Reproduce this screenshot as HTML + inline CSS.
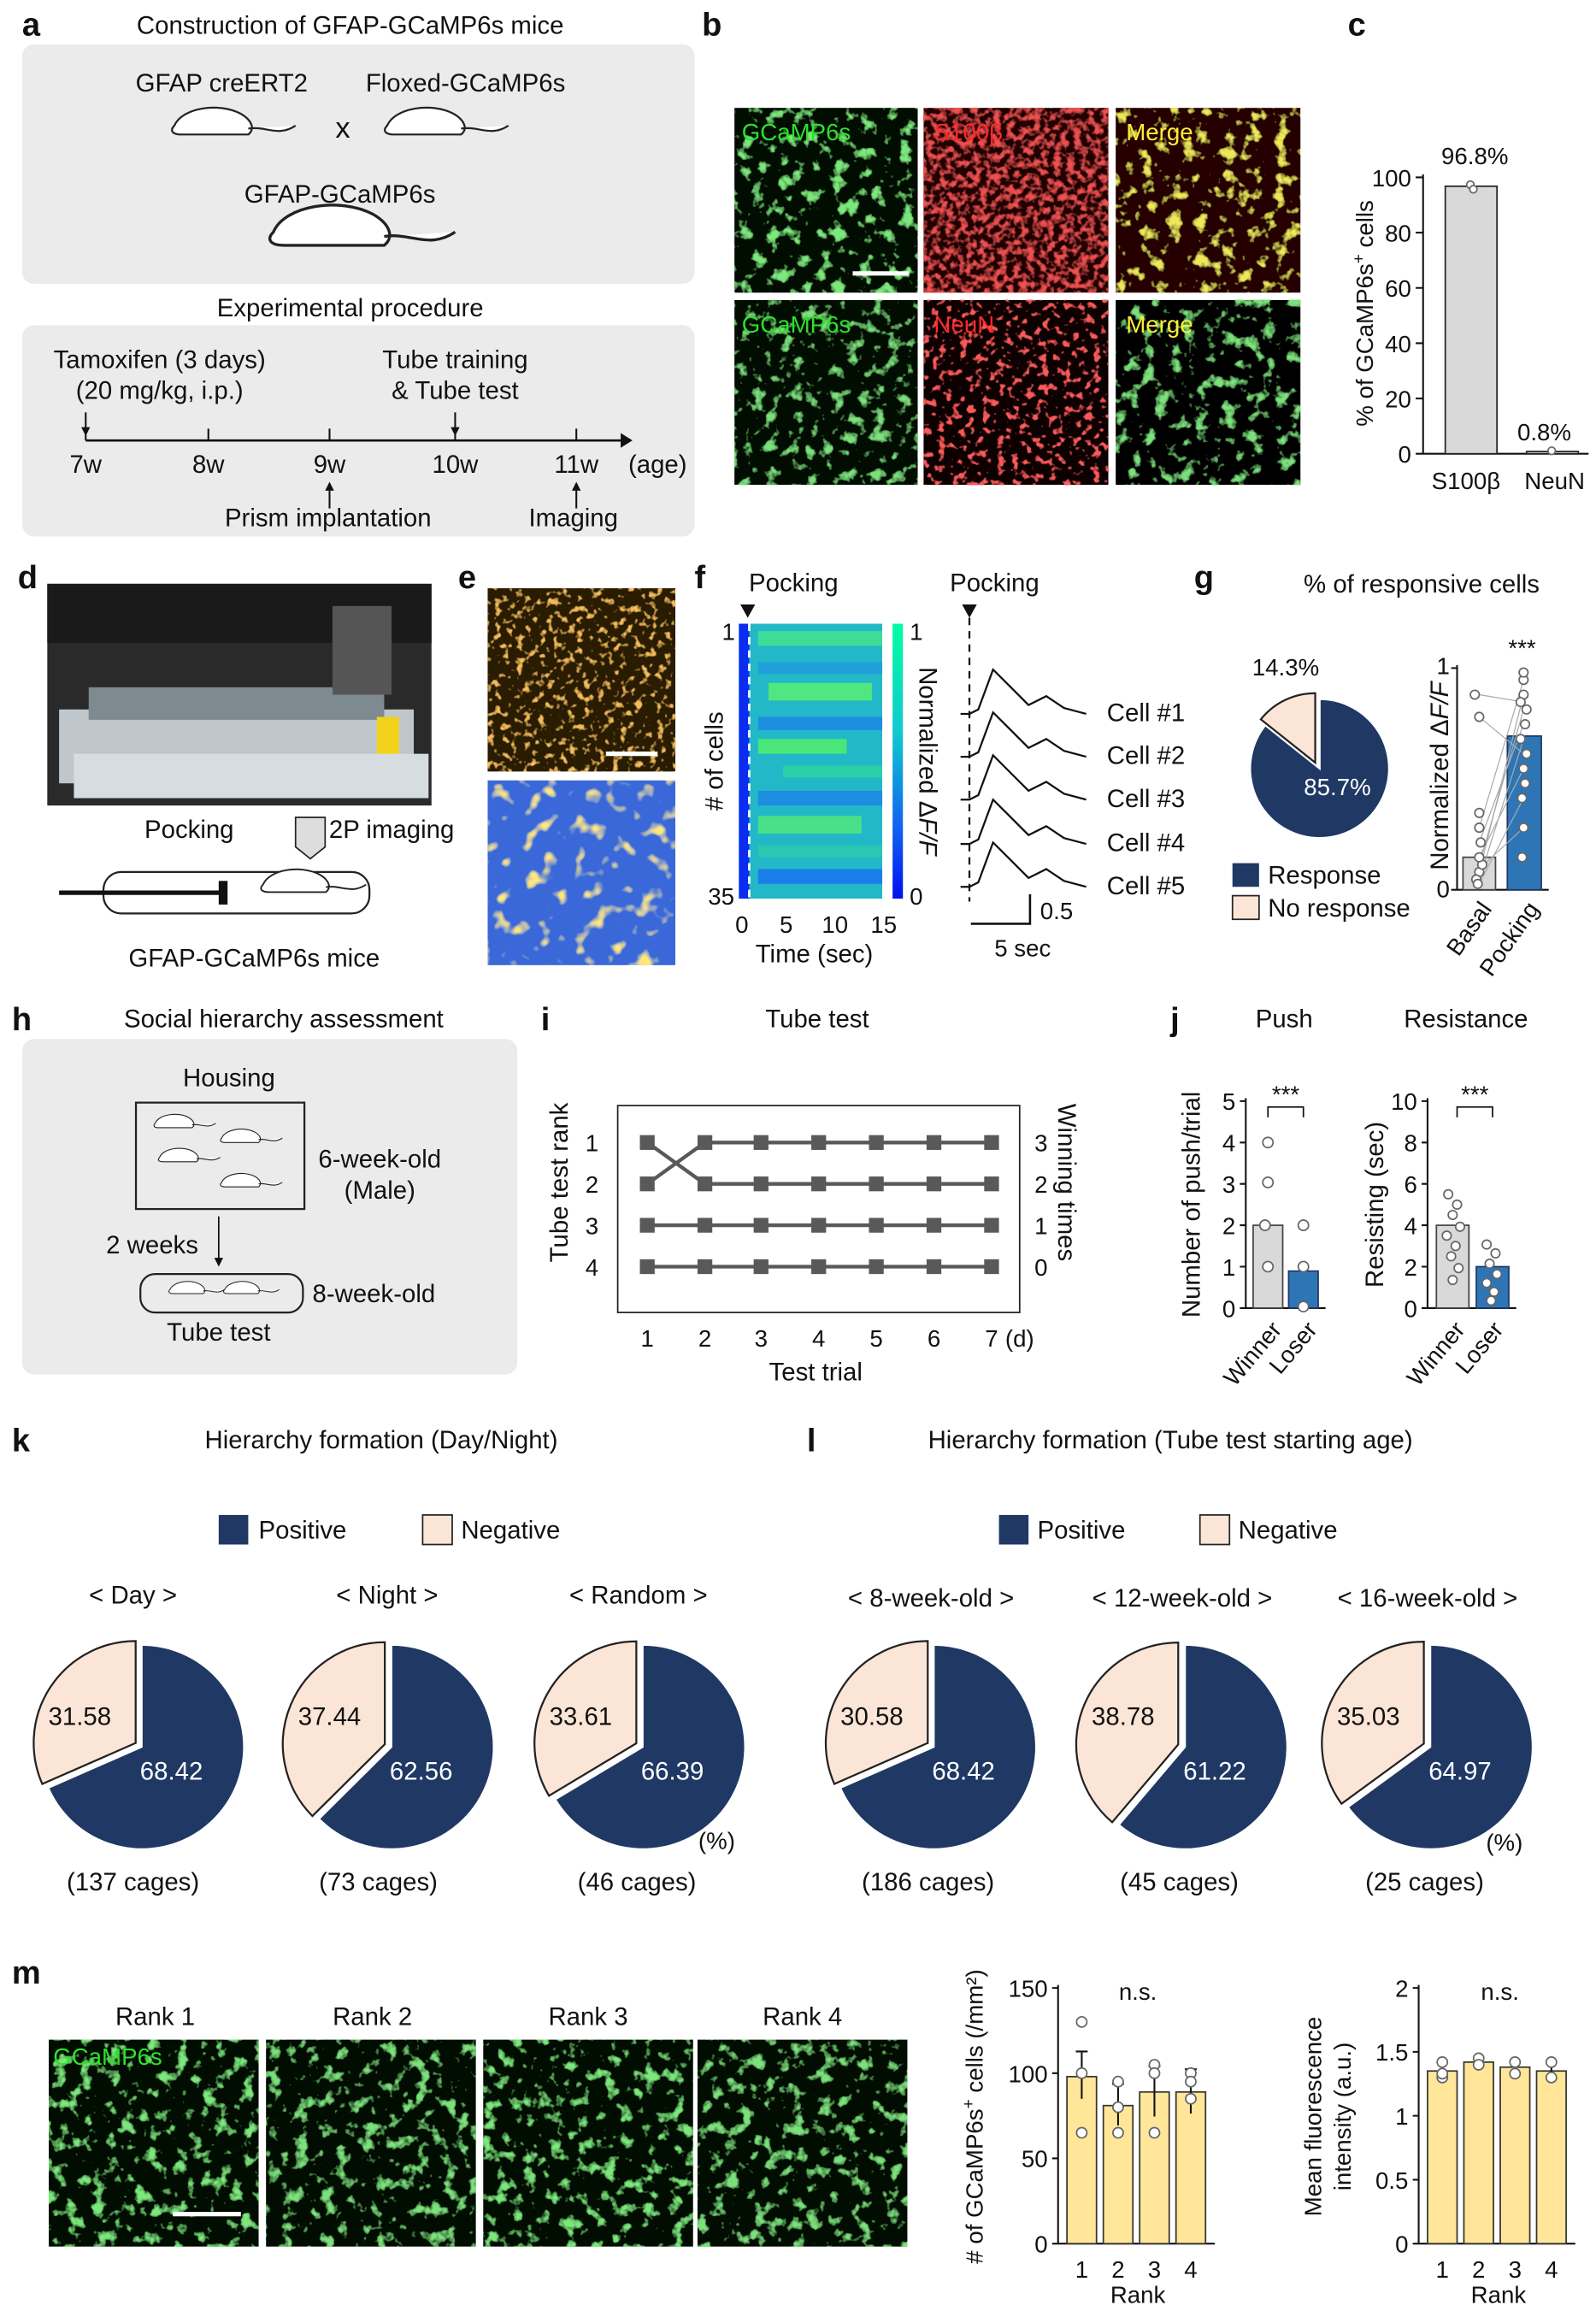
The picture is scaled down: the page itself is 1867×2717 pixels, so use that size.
<!DOCTYPE html>
<html><head><meta charset="utf-8"><style>
html,body{margin:0;padding:0;background:#fff}
svg{display:block}
text{font-family:"Liberation Sans",Arial,sans-serif;fill:#111;font-size:17px;text-anchor:middle}
.s{text-anchor:start}.e{text-anchor:end}.t{font-size:16px}.b{font-size:22px;font-weight:bold;text-anchor:start}
.w{fill:#fff}
.k{stroke:#111;stroke-width:1.2;fill:none}
.dot{fill:#fff;stroke:#666;stroke-width:1}
</style></head><body>
<svg xmlns="http://www.w3.org/2000/svg" width="1867" height="2717" viewBox="0 0 1080 1571.7">
<defs>
<filter id="fg" x="0" y="0" width="100%" height="100%"><feTurbulence type="fractalNoise" baseFrequency="0.11" numOctaves="3" seed="3" result="n"/><feColorMatrix in="n" type="matrix" values="0 0 0 0 0.2  0 0 0 0 0.8  0 0 0 0 0.2  6 0 0 0 -3.4" result="c"/><feComposite in="c" in2="SourceGraphic" operator="over"/></filter>
<filter id="fr" x="0" y="0" width="100%" height="100%"><feTurbulence type="fractalNoise" baseFrequency="0.22" numOctaves="2" seed="5" result="n"/><feColorMatrix in="n" type="matrix" values="0 0 0 0 0.85  0 0 0 0 0.08  0 0 0 0 0.08  4 0 0 0 -1.8" result="c"/><feComposite in="c" in2="SourceGraphic" operator="over"/></filter>
<filter id="fn" x="0" y="0" width="100%" height="100%"><feTurbulence type="fractalNoise" baseFrequency="0.2" numOctaves="2" seed="11" result="n"/><feColorMatrix in="n" type="matrix" values="0 0 0 0 0.95  0 0 0 0 0.1  0 0 0 0 0.1  7 0 0 0 -4" result="c"/><feComposite in="c" in2="SourceGraphic" operator="over"/></filter>
<filter id="fy" x="0" y="0" width="100%" height="100%"><feTurbulence type="fractalNoise" baseFrequency="0.11" numOctaves="3" seed="3" result="n"/><feColorMatrix in="n" type="matrix" values="0 0 0 0 0.85  0 0 0 0 0.8  0 0 0 0 0.1  6 0 0 0 -3.4" result="c"/><feComposite in="c" in2="SourceGraphic" operator="over"/></filter>
<filter id="fm" x="0" y="0" width="100%" height="100%"><feTurbulence type="fractalNoise" baseFrequency="0.11" numOctaves="3" seed="4" result="n"/><feColorMatrix in="n" type="matrix" values="0 0 0 0 0.2  0 0 0 0 0.75  0 0 0 0 0.2  6 0 0 0 -3.4" result="c"/><feComposite in="c" in2="SourceGraphic" operator="over"/></filter>
<filter id="fo" x="0" y="0" width="100%" height="100%"><feTurbulence type="fractalNoise" baseFrequency="0.2" numOctaves="2" seed="9" result="n"/><feColorMatrix in="n" type="matrix" values="0 0 0 0 0.9  0 0 0 0 0.5  0 0 0 0 0.1  6 0 0 0 -3.4" result="c"/><feComposite in="c" in2="SourceGraphic" operator="over"/></filter>
<filter id="fj" x="0" y="0" width="100%" height="100%"><feTurbulence type="fractalNoise" baseFrequency="0.09" numOctaves="2" seed="2" result="n"/><feColorMatrix in="n" type="matrix" values="3 0 0 0 -1.2  0 0 0 0 0.8  0 0 0 0 0.2  5 0 0 0 -2.9" result="c"/><feComposite in="c" in2="SourceGraphic" operator="over"/></filter>
<linearGradient id="cb" x1="0" y1="0" x2="0" y2="1"><stop offset="0" stop-color="#00ffa0"/><stop offset="0.4" stop-color="#10c8d0"/><stop offset="0.75" stop-color="#1060f0"/><stop offset="1" stop-color="#0010f0"/></linearGradient>
<path id="ms" d="M0,10 C5,-2 30,-6 45,2 C52,6 55,12 50,16 L5,16 C-2,16 -3,13 0,10 Z M50,12 C62,10 70,18 82,10" fill="#fff" stroke="#222" stroke-width="1.3"/>
<path id="tr" d="M650,0 L656,0 L662,-3 L672,-30 L684,-18 L696,-6 L708,-12 L720,-4 L735,0" fill="none" stroke="#111" stroke-width="1.3"/>
</defs>
<rect width="1080" height="1572" fill="#fff"/>

<!-- a -->
<text class="b" x="15" y="24">a</text><text x="237" y="23">Construction of GFAP-GCaMP6s mice</text>
<rect x="15" y="30" width="455" height="162" rx="8" fill="#ebebeb"/>
<text x="150" y="62">GFAP creERT2</text><text x="315" y="62">Floxed-GCaMP6s</text><text x="232" y="93" style="font-size:20px">x</text>
<use href="#ms" transform="translate(118,75)"/><use href="#ms" transform="translate(262,75)"/><use href="#ms" transform="translate(185,142) scale(1.5)"/>
<text x="230" y="137">GFAP-GCaMP6s</text>
<text x="237" y="214">Experimental procedure</text>
<rect x="15" y="220" width="455" height="143" rx="8" fill="#ebebeb"/>
<text x="108" y="249">Tamoxifen (3 days)</text><text x="108" y="270">(20 mg/kg, i.p.)</text>
<text x="308" y="249">Tube training</text><text x="308" y="270">&amp; Tube test</text>
<line x1="58" y1="298" x2="422" y2="298" stroke="#111" stroke-width="1.5"/><path d="M420,293 L428,298 L420,303Z" fill="#111"/>
<g stroke="#111" stroke-width="1.2"><line x1="58" y1="298" x2="58" y2="290"/><line x1="141" y1="298" x2="141" y2="290"/><line x1="223" y1="298" x2="223" y2="290"/><line x1="308" y1="298" x2="308" y2="290"/><line x1="390" y1="298" x2="390" y2="290"/>
<line x1="58" y1="279" x2="58" y2="290"/><line x1="308" y1="279" x2="308" y2="290"/><line x1="223" y1="344" x2="223" y2="332"/><line x1="390" y1="344" x2="390" y2="332"/></g>
<path d="M55,289 h6 l-3,6Z M305,289 h6 l-3,6Z M220,332 h6 l-3,-6Z M387,332 h6 l-3,-6Z" fill="#111"/>
<text x="58" y="320">7w</text><text x="141" y="320">8w</text><text x="223" y="320">9w</text><text x="308" y="320">10w</text><text x="390" y="320">11w</text><text x="445" y="320">(age)</text>
<text x="222" y="356">Prism implantation</text><text x="388" y="356">Imaging</text>

<!-- b -->
<text class="b" x="475" y="24">b</text>
<rect x="497" y="73" width="124" height="125" fill="#030803" filter="url(#fg)"/>
<rect x="625" y="73" width="125" height="125" fill="#200303" filter="url(#fr)"/>
<rect x="755" y="73" width="125" height="125" fill="#250604" filter="url(#fy)"/>
<rect x="497" y="203" width="124" height="125" fill="#030803" filter="url(#fm)"/>
<rect x="625" y="203" width="125" height="125" fill="#0c0202" filter="url(#fn)"/>
<rect x="755" y="203" width="125" height="125" fill="#060302" filter="url(#fm)"/>
<rect x="755" y="203" width="125" height="125" fill="#000" opacity="0" />
<text class="s t" x="502" y="95" style="fill:#2ee02e">GCaMP6s</text><text class="s t" x="632" y="95" style="fill:#ff2a2a">S100β</text><text class="s t" x="762" y="95" style="fill:#ffee33">Merge</text>
<text class="s t" x="502" y="225" style="fill:#2ee02e">GCaMP6s</text><text class="s t" x="632" y="225" style="fill:#ff2a2a">NeuN</text><text class="s t" x="762" y="225" style="fill:#ffee33">Merge</text>
<line x1="577" y1="185" x2="615" y2="185" stroke="#fff" stroke-width="3"/>

<!-- c -->
<text class="b" x="912" y="24">c</text>
<path class="k" d="M963,118 V307 H1075 M958,307 H963 M958,269.6 H963 M958,232.2 H963 M958,194.8 H963 M958,157.4 H963 M958,120 H963"/>
<text class="e t" x="955" y="313">0</text><text class="e t" x="955" y="275.6">20</text><text class="e t" x="955" y="238.2">40</text><text class="e t" x="955" y="200.8">60</text><text class="e t" x="955" y="163.4">80</text><text class="e t" x="955" y="126">100</text>
<rect x="978" y="126" width="35" height="181" fill="#d9d9d9" stroke="#222"/><rect x="1033" y="305.5" width="35" height="1.5" fill="#d9d9d9" stroke="#222"/>
<circle class="dot" cx="995" cy="125" r="2.5"/><circle class="dot" cx="997" cy="128" r="2.5"/><circle class="dot" cx="1050" cy="305" r="2.5"/>
<text class="t" x="998" y="111">96.8%</text><text class="t" x="1045" y="298">0.8%</text>
<text class="t" x="992" y="331">S100β</text><text class="t" x="1052" y="331">NeuN</text>
<text class="t" x="929" y="212" transform="rotate(-90 929 212)">% of GCaMP6s<tspan font-size="11" dy="-6">+</tspan><tspan dy="6"> cells</tspan></text>

<!-- d -->
<text class="b" x="12" y="398">d</text>
<rect x="32" y="395" width="260" height="150" fill="#2a2a2a"/><rect x="32" y="395" width="260" height="40" fill="#1a1a1a"/><rect x="40" y="480" width="240" height="50" fill="#bfc7cc"/><rect x="60" y="465" width="200" height="22" fill="#7d8a90"/><rect x="225" y="410" width="40" height="60" fill="#555"/><rect x="255" y="485" width="15" height="35" fill="#f2d21a"/><rect x="50" y="510" width="240" height="30" fill="#d6dde0"/>
<text x="128" y="567">Pocking</text><text x="265" y="567">2P imaging</text>
<path d="M200,553 h20 v20 l-10,8 l-10,-8Z" fill="#ddd" stroke="#222"/>
<rect x="70" y="590" width="180" height="28" rx="12" fill="none" stroke="#222" stroke-width="1.3"/><line x1="40" y1="604" x2="150" y2="604" stroke="#111" stroke-width="3"/><rect x="148" y="596" width="6" height="16" fill="#111"/>
<use href="#ms" transform="translate(178,590) scale(0.85)"/>
<text x="172" y="654">GFAP-GCaMP6s mice</text>

<!-- e -->
<text class="b" x="310" y="398">e</text>
<rect x="330" y="398" width="127" height="124" fill="#2a1e06" filter="url(#fo)"/>
<rect x="330" y="528" width="127" height="125" fill="#3a68d8" filter="url(#fj)"/>
<line x1="410" y1="510" x2="445" y2="510" stroke="#fff" stroke-width="3"/>

<!-- f -->
<text class="b" x="470" y="398">f</text><text x="537" y="400">Pocking</text><path d="M501,409 h10 l-5,9Z" fill="#111"/>
<rect x="500" y="422" width="97" height="186" fill="#22b8c8"/>
<g>
<rect x="513" y="427" width="84" height="10" fill="#3fdc98"/><rect x="513" y="448" width="84" height="8" fill="#20a0d8"/><rect x="520" y="462" width="70" height="12" fill="#50e680"/>
<rect x="513" y="485" width="84" height="9" fill="#1c90e0"/><rect x="513" y="500" width="60" height="10" fill="#4ae67a"/><rect x="530" y="518" width="67" height="8" fill="#2ad0a8"/>
<rect x="513" y="535" width="84" height="10" fill="#1c8ee0"/><rect x="513" y="552" width="70" height="12" fill="#48e088"/><rect x="513" y="572" width="84" height="8" fill="#2ac8b0"/><rect x="513" y="588" width="84" height="10" fill="#1a7ee8"/>
</g>
<rect x="500" y="422" width="7" height="186" fill="#0a2df0"/>
<line x1="507" y1="422" x2="507" y2="608" stroke="#fff" stroke-width="1.6" stroke-dasharray="5,4"/>
<rect x="604" y="422" width="7" height="186" fill="url(#cb)"/>
<text class="t" x="493" y="433">1</text><text class="t" x="488" y="612">35</text><text x="489" y="515" transform="rotate(-90 489 515)"># of cells</text>
<text class="t" x="620" y="433">1</text><text class="t" x="620" y="612">0</text><text x="622" y="515" transform="rotate(90 622 515)">Normalized Δ<tspan font-style="italic">F/F</tspan></text>
<text class="t" x="502" y="631">0</text><text class="t" x="532" y="631">5</text><text class="t" x="565" y="631">10</text><text class="t" x="598" y="631">15</text><text x="551" y="651">Time (sec)</text>
<text x="673" y="400">Pocking</text><path d="M651,409 h10 l-5,9Z" fill="#111"/>
<line x1="656" y1="418" x2="656" y2="610" stroke="#111" stroke-width="1.3" stroke-dasharray="5,4"/>
<use href="#tr" transform="translate(0,483)"/><use href="#tr" transform="translate(0,512)"/><use href="#tr" transform="translate(0,541)"/><use href="#tr" transform="translate(0,571)"/><use href="#tr" transform="translate(0,600)"/>
<text class="s" x="749" y="488">Cell #1</text><text class="s" x="749" y="517">Cell #2</text><text class="s" x="749" y="546">Cell #3</text><text class="s" x="749" y="576">Cell #4</text><text class="s" x="749" y="605">Cell #5</text>
<path d="M697,605 V625 H657" fill="none" stroke="#111" stroke-width="1.5"/><text class="t" x="715" y="622">0.5</text><text class="t" x="692" y="647">5 sec</text>

<!-- g -->
<text class="b" x="808" y="398">g</text><text x="962" y="401">% of responsive cells</text>
<path d="M893,520 L893,473 A47,47 0 1 1 856.2,490.7 Z" fill="#1f3864" stroke="#fff" stroke-width="1.3"/>
<path d="M890,516 L853.2,486.7 A47,47 0 0 1 890,469 Z" fill="#fbe5d6" stroke="#222" stroke-width="1.3"/>
<text class="t" x="870" y="457">14.3%</text><text class="t w" x="905" y="538">85.7%</text>
<rect x="834" y="584" width="18" height="16" fill="#1f3864"/><rect x="834" y="606" width="18" height="16" fill="#fbe5d6" stroke="#222"/>
<text class="s" x="858" y="598">Response</text><text class="s" x="858" y="620">No response</text>
<path class="k" d="M986,450 V602 H1048 M982,452 H986 M982,602 H986"/>
<text class="e t" x="981" y="456">1</text><text class="e t" x="981" y="607">0</text>
<rect x="990" y="580" width="22" height="22" fill="#d9d9d9" stroke="#444"/><rect x="1020" y="498" width="23" height="104" fill="#2e75b6" stroke="#1f3864"/>
<g stroke="#aaa" stroke-width="0.7"><line x1="1001" y1="590" x2="1031" y2="470"/><line x1="1001" y1="585" x2="1031" y2="480"/><line x1="1001" y1="595" x2="1031" y2="500"/><line x1="1001" y1="580" x2="1031" y2="520"/><line x1="1001" y1="570" x2="1031" y2="490"/><line x1="1001" y1="598" x2="1031" y2="540"/><line x1="1001" y1="560" x2="1031" y2="460"/><line x1="1001" y1="588" x2="1031" y2="560"/><line x1="1001" y1="485" x2="1031" y2="510"/><line x1="1001" y1="470" x2="1031" y2="475"/></g>
<g><circle class="dot" cx="1001" cy="590" r="3"/><circle class="dot" cx="1003" cy="585" r="3"/><circle class="dot" cx="999" cy="595" r="3"/><circle class="dot" cx="1001" cy="580" r="3"/><circle class="dot" cx="1002" cy="570" r="3"/><circle class="dot" cx="1000" cy="598" r="3"/><circle class="dot" cx="1001" cy="560" r="3"/><circle class="dot" cx="1001" cy="485" r="3"/><circle class="dot" cx="998" cy="470" r="3"/><circle class="dot" cx="1001" cy="550" r="3"/>
<circle class="dot" cx="1031" cy="470" r="3"/><circle class="dot" cx="1033" cy="480" r="3"/><circle class="dot" cx="1029" cy="500" r="3"/><circle class="dot" cx="1031" cy="520" r="3"/><circle class="dot" cx="1032" cy="490" r="3"/><circle class="dot" cx="1030" cy="540" r="3"/><circle class="dot" cx="1031" cy="460" r="3"/><circle class="dot" cx="1031" cy="560" r="3"/><circle class="dot" cx="1033" cy="510" r="3"/><circle class="dot" cx="1029" cy="475" r="3"/><circle class="dot" cx="1031" cy="455" r="3"/><circle class="dot" cx="1032" cy="530" r="3"/><circle class="dot" cx="1030" cy="580" r="3"/></g>
<text class="t" x="1030" y="444">***</text><text x="980" y="525" transform="rotate(-90 980 525)">Normalized Δ<tspan font-style="italic">F/F</tspan></text>
<text class="e t" x="1010" y="615" transform="rotate(-55 1010 615)">Basal</text><text class="e t" x="1042" y="615" transform="rotate(-55 1042 615)">Pocking</text>

<!-- h -->
<text class="b" x="8" y="697">h</text><text x="192" y="695">Social hierarchy assessment</text>
<rect x="15" y="703" width="335" height="227" rx="8" fill="#ebebeb"/><text x="155" y="735">Housing</text>
<rect x="92" y="746" width="114" height="72" fill="none" stroke="#222" stroke-width="1.3"/>
<use href="#ms" transform="translate(105,755) scale(.5)"/><use href="#ms" transform="translate(150,765) scale(.5)"/><use href="#ms" transform="translate(108,778) scale(.5)"/><use href="#ms" transform="translate(150,795) scale(.5)"/>
<text x="257" y="790">6-week-old</text><text x="257" y="811">(Male)</text>
<text x="103" y="848">2 weeks</text><line x1="148" y1="823" x2="148" y2="852" stroke="#111"/><path d="M145,851 h6 l-3,6Z" fill="#111"/>
<rect x="95" y="862" width="110" height="26" rx="10" fill="none" stroke="#222" stroke-width="1.3"/>
<use href="#ms" transform="translate(115,868) scale(.45)"/><use href="#ms" transform="translate(152,868) scale(.45)"/>
<text x="253" y="881">8-week-old</text><text x="148" y="907">Tube test</text>

<!-- i -->
<text class="b" x="366" y="697">i</text><text x="553" y="695">Tube test</text>
<rect x="418" y="748" width="272" height="140" fill="none" stroke="#222"/>
<path d="M438,773 L477,801 L671,801 M438,801 L477,773 L671,773 M438,829 L671,829 M438,857 L671,857" fill="none" stroke="#595959" stroke-width="2.5"/>
<g fill="#595959">
<rect x="433" y="768" width="10" height="10"/><rect x="472" y="768" width="10" height="10"/><rect x="510" y="768" width="10" height="10"/><rect x="549" y="768" width="10" height="10"/><rect x="588" y="768" width="10" height="10"/><rect x="627" y="768" width="10" height="10"/><rect x="666" y="768" width="10" height="10"/>
<rect x="433" y="796" width="10" height="10"/><rect x="472" y="796" width="10" height="10"/><rect x="510" y="796" width="10" height="10"/><rect x="549" y="796" width="10" height="10"/><rect x="588" y="796" width="10" height="10"/><rect x="627" y="796" width="10" height="10"/><rect x="666" y="796" width="10" height="10"/>
<rect x="433" y="824" width="10" height="10"/><rect x="472" y="824" width="10" height="10"/><rect x="510" y="824" width="10" height="10"/><rect x="549" y="824" width="10" height="10"/><rect x="588" y="824" width="10" height="10"/><rect x="627" y="824" width="10" height="10"/><rect x="666" y="824" width="10" height="10"/>
<rect x="433" y="852" width="10" height="10"/><rect x="472" y="852" width="10" height="10"/><rect x="510" y="852" width="10" height="10"/><rect x="549" y="852" width="10" height="10"/><rect x="588" y="852" width="10" height="10"/><rect x="627" y="852" width="10" height="10"/><rect x="666" y="852" width="10" height="10"/></g>
<text class="e t" x="405" y="779">1</text><text class="e t" x="405" y="807">2</text><text class="e t" x="405" y="835">3</text><text class="e t" x="405" y="863">4</text>
<text class="s t" x="700" y="779">3</text><text class="s t" x="700" y="807">2</text><text class="s t" x="700" y="835">1</text><text class="s t" x="700" y="863">0</text>
<text class="t" x="438" y="911">1</text><text class="t" x="477" y="911">2</text><text class="t" x="515" y="911">3</text><text class="t" x="554" y="911">4</text><text class="t" x="593" y="911">5</text><text class="t" x="632" y="911">6</text><text class="t" x="671" y="911">7</text><text class="t" x="690" y="911">(d)</text>
<text x="552" y="934">Test trial</text>
<text x="384" y="800" transform="rotate(-90 384 800)">Tube test rank</text><text x="716" y="800" transform="rotate(90 716 800)">Winning times</text>

<!-- j -->
<text class="b" x="792" y="697">j</text><text x="869" y="695">Push</text><text x="992" y="695">Resistance</text>
<path class="k" d="M843,743 V885 H897 M839,885 H843 M839,857 H843 M839,829 H843 M839,801 H843 M839,773 H843 M839,745 H843"/>
<text class="e t" x="836" y="891">0</text><text class="e t" x="836" y="863">1</text><text class="e t" x="836" y="835">2</text><text class="e t" x="836" y="807">3</text><text class="e t" x="836" y="779">4</text><text class="e t" x="836" y="751">5</text>
<rect x="848" y="829" width="20" height="56" fill="#d9d9d9" stroke="#444"/><rect x="872" y="860" width="20" height="25" fill="#2e75b6" stroke="#1f3864"/>
<circle class="dot" cx="858" cy="773" r="3.5"/><circle class="dot" cx="858" cy="800" r="3.5"/><circle class="dot" cx="856" cy="829" r="3.5"/><circle class="dot" cx="858" cy="857" r="3.5"/><circle class="dot" cx="882" cy="829" r="3.5"/><circle class="dot" cx="882" cy="857" r="3.5"/><circle class="dot" cx="882" cy="884" r="3.5"/>
<path d="M858,756 V749 H882 V756" fill="none" stroke="#111"/><text class="t" x="870" y="746">***</text>
<text x="812" y="815" transform="rotate(-90 812 815)">Number of push/trial</text>
<path class="k" d="M966,743 V885 H1026 M962,885 H966 M962,857 H966 M962,829 H966 M962,801 H966 M962,773 H966 M962,745 H966"/>
<text class="e t" x="959" y="891">0</text><text class="e t" x="959" y="863">2</text><text class="e t" x="959" y="835">4</text><text class="e t" x="959" y="807">6</text><text class="e t" x="959" y="779">8</text><text class="e t" x="959" y="751">10</text>
<rect x="972" y="829" width="22" height="56" fill="#d9d9d9" stroke="#444"/><rect x="999" y="857" width="22" height="28" fill="#2e75b6" stroke="#1f3864"/>
<circle class="dot" cx="980" cy="808" r="3"/><circle class="dot" cx="986" cy="815" r="3"/><circle class="dot" cx="983" cy="822" r="3"/><circle class="dot" cx="988" cy="830" r="3"/><circle class="dot" cx="979" cy="836" r="3"/><circle class="dot" cx="985" cy="843" r="3"/><circle class="dot" cx="982" cy="850" r="3"/><circle class="dot" cx="987" cy="858" r="3"/><circle class="dot" cx="983" cy="866" r="3"/>
<circle class="dot" cx="1006" cy="842" r="3"/><circle class="dot" cx="1012" cy="848" r="3"/><circle class="dot" cx="1008" cy="855" r="3"/><circle class="dot" cx="1013" cy="862" r="3"/><circle class="dot" cx="1006" cy="868" r="3"/><circle class="dot" cx="1011" cy="874" r="3"/><circle class="dot" cx="1009" cy="880" r="3"/>
<path d="M986,756 V749 H1010 V756" fill="none" stroke="#111"/><text class="t" x="998" y="746">***</text>
<text x="936" y="815" transform="rotate(-90 936 815)">Resisting (sec)</text>
<text class="e t" x="868" y="900" transform="rotate(-50 868 900)">Winner</text><text class="e t" x="892" y="900" transform="rotate(-50 892 900)">Loser</text>
<text class="e t" x="992" y="900" transform="rotate(-50 992 900)">Winner</text><text class="e t" x="1018" y="900" transform="rotate(-50 1018 900)">Loser</text>

<!-- k -->
<text class="b" x="8" y="982">k</text><text x="258" y="980">Hierarchy formation (Day/Night)</text>
<rect x="148" y="1025" width="20" height="20" fill="#1f3864"/><rect x="286" y="1025" width="20" height="20" fill="#fbe5d6" stroke="#222"/>
<text class="s" x="175" y="1041">Positive</text><text class="s" x="312" y="1041">Negative</text>
<text x="90" y="1085">&lt; Day &gt;</text><text x="262" y="1085">&lt; Night &gt;</text><text x="432" y="1085">&lt; Random &gt;</text>
<g transform="translate(96,1182)"><path d="M0,0 L0,-69 A69,69 0 1 1 -63.2,27.7 Z" fill="#1f3864" stroke="#fff"/><path d="M-4.2,-2.7 L-67.4,25 A69,69 0 0 1 -4.2,-71.7 Z" fill="#fbe5d6" stroke="#222" stroke-width="1.3"/><text x="-42" y="-15">31.58</text><text class="w" x="20" y="22">68.42</text></g>
<g transform="translate(265,1182)"><path d="M0,0 L0,-69 A69,69 0 1 1 -49,48.6 Z" fill="#1f3864" stroke="#fff"/><path d="M-4.6,-1.9 L-53.6,46.7 A69,69 0 0 1 -4.6,-70.9 Z" fill="#fbe5d6" stroke="#222" stroke-width="1.3"/><text x="-42" y="-15">37.44</text><text class="w" x="20" y="22">62.56</text></g>
<g transform="translate(435,1182)"><path d="M0,0 L0,-69 A69,69 0 1 1 -59.1,35.5 Z" fill="#1f3864" stroke="#fff"/><path d="M-4.4,-2.5 L-63.5,33 A69,69 0 0 1 -4.4,-71.5 Z" fill="#fbe5d6" stroke="#222" stroke-width="1.3"/><text x="-42" y="-15">33.61</text><text class="w" x="20" y="22">66.39</text></g>
<text class="t" x="485" y="1251">(%)</text>
<text x="90" y="1279">(137 cages)</text><text x="256" y="1279">(73 cages)</text><text x="431" y="1279">(46 cages)</text>

<!-- l -->
<text class="b" x="546" y="982">l</text><text x="792" y="980">Hierarchy formation (Tube test starting age)</text>
<rect x="676" y="1025" width="20" height="20" fill="#1f3864"/><rect x="812" y="1025" width="20" height="20" fill="#fbe5d6" stroke="#222"/>
<text class="s" x="702" y="1041">Positive</text><text class="s" x="838" y="1041">Negative</text>
<text x="630" y="1087">&lt; 8-week-old &gt;</text><text x="800" y="1087">&lt; 12-week-old &gt;</text><text x="966" y="1087">&lt; 16-week-old &gt;</text>
<g transform="translate(632,1182)"><path d="M0,0 L0,-69 A69,69 0 1 1 -63.2,27.7 Z" fill="#1f3864" stroke="#fff"/><path d="M-4.2,-2.7 L-67.4,25 A69,69 0 0 1 -4.2,-71.7 Z" fill="#fbe5d6" stroke="#222" stroke-width="1.3"/><text x="-42" y="-15">30.58</text><text class="w" x="20" y="22">68.42</text></g>
<g transform="translate(802,1182)"><path d="M0,0 L0,-69 A69,69 0 1 1 -44.7,52.6 Z" fill="#1f3864" stroke="#fff"/><path d="M-4.7,-1.7 L-49.4,50.9 A69,69 0 0 1 -4.7,-70.7 Z" fill="#fbe5d6" stroke="#222" stroke-width="1.3"/><text x="-42" y="-15">38.78</text><text class="w" x="20" y="22">61.22</text></g>
<g transform="translate(968,1182)"><path d="M0,0 L0,-69 A69,69 0 1 1 -55.7,40.7 Z" fill="#1f3864" stroke="#fff"/><path d="M-4.5,-2.3 L-60.2,38.4 A69,69 0 0 1 -4.5,-71.3 Z" fill="#fbe5d6" stroke="#222" stroke-width="1.3"/><text x="-42" y="-15">35.03</text><text class="w" x="20" y="22">64.97</text></g>
<text class="t" x="1018" y="1252">(%)</text>
<text x="628" y="1279">(186 cages)</text><text x="798" y="1279">(45 cages)</text><text x="964" y="1279">(25 cages)</text>

<!-- m -->
<text class="b" x="8" y="1342">m</text>
<rect x="33" y="1380" width="142" height="140" fill="#041004" filter="url(#fg)"/><rect x="180" y="1380" width="142" height="140" fill="#041004" filter="url(#fm)"/><rect x="327" y="1380" width="142" height="140" fill="#041004" filter="url(#fg)"/><rect x="472" y="1380" width="142" height="140" fill="#041004" filter="url(#fm)"/>
<text x="105" y="1370">Rank 1</text><text x="252" y="1370">Rank 2</text><text x="398" y="1370">Rank 3</text><text x="543" y="1370">Rank 4</text>
<text class="s t" x="36" y="1397" style="fill:#2ee02e">GCaMP6s</text><line x1="117" y1="1498" x2="163" y2="1498" stroke="#fff" stroke-width="3"/>
<path class="k" d="M716,1343 V1518 H822 M712,1518 H716 M712,1460.3 H716 M712,1402.7 H716 M712,1345 H716"/>
<text class="e t" x="709" y="1524">0</text><text class="e t" x="709" y="1466">50</text><text class="e t" x="709" y="1409">100</text><text class="e t" x="709" y="1351">150</text>
<g fill="#ffe699" stroke="#333"><rect x="722" y="1405" width="20" height="113"/><rect x="746.6" y="1424.6" width="20" height="93.4"/><rect x="771.2" y="1415.4" width="20" height="102.6"/><rect x="795.8" y="1415.4" width="20" height="102.6"/></g>
<path class="k" d="M732,1388 V1420 M728,1388 H736 M756.6,1410 V1438 M752.6,1410 H760.6 M781.2,1398 V1432 M777.2,1398 H785.2 M805.8,1400 V1430 M801.8,1400 H809.8"/>
<circle class="dot" cx="732" cy="1368" r="3.5"/><circle class="dot" cx="732" cy="1402.7" r="3.5"/><circle class="dot" cx="732" cy="1443" r="3.5"/><circle class="dot" cx="756.6" cy="1408.4" r="3.5"/><circle class="dot" cx="756.6" cy="1425.7" r="3.5"/><circle class="dot" cx="756.6" cy="1443" r="3.5"/><circle class="dot" cx="781.2" cy="1397" r="3.5"/><circle class="dot" cx="781.2" cy="1402.7" r="3.5"/><circle class="dot" cx="781.2" cy="1443" r="3.5"/><circle class="dot" cx="805.8" cy="1402.7" r="3.5"/><circle class="dot" cx="805.8" cy="1408.4" r="3.5"/><circle class="dot" cx="805.8" cy="1420" r="3.5"/>
<text class="t" x="770" y="1353">n.s.</text>
<text class="t" x="732" y="1541">1</text><text class="t" x="756.6" y="1541">2</text><text class="t" x="781.2" y="1541">3</text><text class="t" x="805.8" y="1541">4</text><text class="t" x="770" y="1558">Rank</text>
<text class="t" x="665" y="1432" transform="rotate(-90 665 1432)"># of GCaMP6s<tspan font-size="11" dy="-6">+</tspan><tspan dy="6"> cells (/mm²)</tspan></text>
<path class="k" d="M960,1343 V1518 H1066 M956,1518 H960 M956,1474.75 H960 M956,1431.5 H960 M956,1388.25 H960 M956,1345 H960"/>
<text class="e t" x="953" y="1524">0</text><text class="e t" x="953" y="1481">0.5</text><text class="e t" x="953" y="1437.5">1</text><text class="e t" x="953" y="1394">1.5</text><text class="e t" x="953" y="1351">2</text>
<g fill="#ffe699" stroke="#333"><rect x="966" y="1401.2" width="20" height="116.8"/><rect x="990.6" y="1395.2" width="20" height="122.8"/><rect x="1015.2" y="1398.6" width="20" height="119.4"/><rect x="1039.8" y="1401.2" width="20" height="116.8"/></g>
<path class="k" d="M976,1395 V1407 M1000.6,1391 V1399 M1025.2,1394 V1403 M1049.8,1394 V1408"/>
<circle class="dot" cx="976" cy="1395.2" r="3.5"/><circle class="dot" cx="976" cy="1405.6" r="3.5"/><circle class="dot" cx="976" cy="1403" r="3.5"/><circle class="dot" cx="1000.6" cy="1392.6" r="3.5"/><circle class="dot" cx="1000.6" cy="1397" r="3.5"/><circle class="dot" cx="1025.2" cy="1395.2" r="3.5"/><circle class="dot" cx="1025.2" cy="1403" r="3.5"/><circle class="dot" cx="1049.8" cy="1395.2" r="3.5"/><circle class="dot" cx="1049.8" cy="1405.6" r="3.5"/>
<text class="t" x="1015" y="1353">n.s.</text>
<text class="t" x="976" y="1541">1</text><text class="t" x="1000.6" y="1541">2</text><text class="t" x="1025.2" y="1541">3</text><text class="t" x="1049.8" y="1541">4</text><text class="t" x="1014" y="1558">Rank</text>
<text class="t" x="894" y="1432" transform="rotate(-90 894 1432)">Mean fluorescence</text><text class="t" x="914" y="1432" transform="rotate(-90 914 1432)">intensity (a.u.)</text>
</svg>
</body></html>
